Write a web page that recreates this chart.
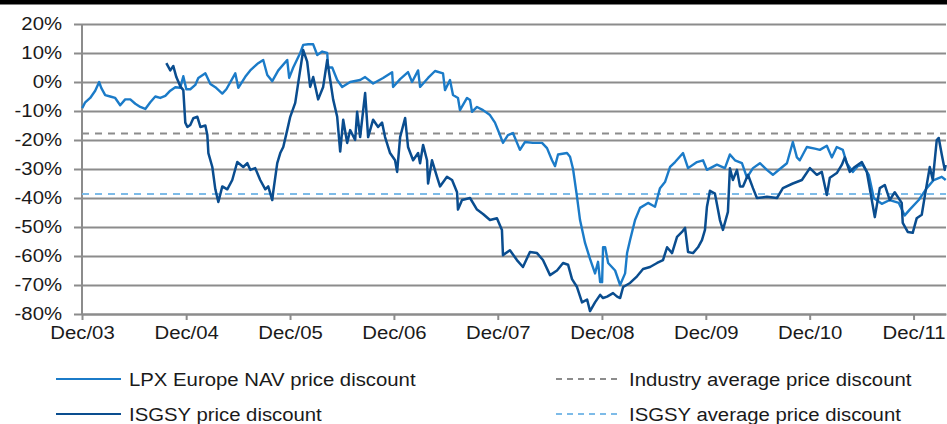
<!DOCTYPE html>
<html>
<head>
<meta charset="utf-8">
<script src="https://cdn.jsdelivr.net/npm/d3@7"></script>
<style>
  body { margin: 0; background: #fff; }
  svg text { font-family: "Liberation Sans", Arial, sans-serif; fill: #1a1a1a; }
</style>
</head>
<body>
<div id="chart"></div>
<script>
// values: [decimal year, discount %]
const yTicks = [20, 10, 0, -10, -20, -30, -40, -50, -60, -70, -80];
const xTickYears = [2003, 2004, 2005, 2006, 2007, 2008, 2009, 2010, 2011];

const lpxPoints = [
  [2003.917, -9], [2003.946, -7], [2003.994, -5.5], [2004.042, -3], [2004.080, 0],
  [2004.100, -2], [2004.138, -4.5], [2004.186, -5], [2004.234, -5.5], [2004.282, -8],
  [2004.330, -6], [2004.379, -6], [2004.427, -7.5], [2004.475, -8.6], [2004.523, -9.3],
  [2004.571, -7], [2004.619, -5], [2004.667, -5.5], [2004.715, -4.8], [2004.763, -3],
  [2004.811, -1.8], [2004.859, -2], [2004.888, 2], [2004.917, -2.5], [2004.955, -2.5],
  [2005.003, -1], [2005.032, 1.4], [2005.100, 3], [2005.148, -0.7], [2005.196, -1.8],
  [2005.263, -4], [2005.302, -2.5], [2005.388, 3], [2005.417, -2], [2005.484, 1.8],
  [2005.532, 4], [2005.609, 6.5], [2005.657, 7.6], [2005.696, 2.4], [2005.744, 0.3],
  [2005.802, 4], [2005.888, 7.6], [2005.907, 1.4], [2005.946, 5], [2006.013, 10],
  [2006.042, 12.8], [2006.090, 13], [2006.138, 13], [2006.177, 9.3], [2006.225, 10.5],
  [2006.273, 10], [2006.282, 5], [2006.321, 5], [2006.369, 0.7], [2006.417, -1.7],
  [2006.494, 0], [2006.590, 0.7], [2006.638, 1.7], [2006.715, -0.5], [2006.811, 1.4],
  [2006.898, 3.4], [2006.907, -1.7], [2006.975, 1], [2007.051, 3.4], [2007.090, 0],
  [2007.148, 4], [2007.167, -1.7], [2007.244, 1.4], [2007.311, 3.8], [2007.388, 3],
  [2007.407, -2.8], [2007.455, 0.7], [2007.484, -4.5], [2007.532, -5.5], [2007.551, -9.7],
  [2007.619, -5.5], [2007.648, -6.2], [2007.667, -10.3], [2007.715, -8.6], [2007.773, -9.7],
  [2007.840, -11.4], [2007.888, -14], [2007.936, -18.3], [2007.965, -21], [2008.013, -18.3],
  [2008.061, -17.6], [2008.128, -23.4], [2008.176, -20.7], [2008.253, -21], [2008.340, -21],
  [2008.388, -22.8], [2008.436, -27], [2008.465, -29], [2008.494, -25], [2008.580, -24.5],
  [2008.609, -25.8], [2008.638, -30], [2008.676, -39.6], [2008.705, -47.6], [2008.753, -55.5],
  [2008.801, -61], [2008.849, -66], [2008.878, -62], [2008.898, -69], [2008.917, -69],
  [2008.926, -57], [2008.946, -57], [2008.975, -62.4], [2009.042, -65], [2009.090, -70],
  [2009.138, -66], [2009.157, -59], [2009.186, -54.5], [2009.234, -47.6], [2009.282, -43.4],
  [2009.359, -41.7], [2009.426, -43], [2009.474, -36.6], [2009.522, -34.5], [2009.571, -29.3],
  [2009.619, -27.6], [2009.696, -24.5], [2009.744, -29.7], [2009.830, -27.6], [2009.888, -27],
  [2009.926, -30.3], [2010.022, -28.5], [2010.099, -29.7], [2010.147, -25], [2010.196, -27],
  [2010.263, -28], [2010.311, -33], [2010.369, -29.7], [2010.436, -28], [2010.503, -30.3],
  [2010.561, -32], [2010.628, -30], [2010.696, -28], [2010.753, -20.7], [2010.792, -26],
  [2010.820, -27], [2010.888, -22.4], [2010.965, -23], [2011.013, -23.4], [2011.080, -22],
  [2011.128, -26], [2011.176, -22.4], [2011.234, -23.4], [2011.272, -28], [2011.330, -31],
  [2011.378, -29], [2011.426, -28.6], [2011.484, -32], [2011.532, -40], [2011.609, -42],
  [2011.686, -40.7], [2011.773, -41.7], [2011.830, -46], [2011.878, -44], [2011.965, -40.7],
  [2012.042, -36.6], [2012.109, -33.8], [2012.186, -32.7], [2012.224, -33.8]
];

const isgsyPoints = [
  [2004.725, 6.5], [2004.763, 4], [2004.792, 5.5], [2004.821, 1.7], [2004.859, -1.5],
  [2004.888, -2.8], [2004.907, -14], [2004.927, -15.5], [2004.955, -14.8], [2004.984, -12.5],
  [2005.023, -12], [2005.052, -15.5], [2005.100, -15], [2005.119, -18.3], [2005.129, -24.5],
  [2005.167, -29.3], [2005.196, -37], [2005.225, -41.4], [2005.263, -36], [2005.311, -37],
  [2005.359, -33.8], [2005.407, -27.6], [2005.465, -29.3], [2005.504, -28], [2005.532, -30.3],
  [2005.580, -29.7], [2005.628, -33.8], [2005.677, -37], [2005.705, -36], [2005.744, -40.7],
  [2005.753, -38], [2005.792, -28], [2005.821, -24.5], [2005.850, -22.4], [2005.888, -16.6],
  [2005.917, -12], [2005.965, -7.2], [2005.994, -0.3], [2006.032, 8.6], [2006.042, 11],
  [2006.080, 7], [2006.109, -1.7], [2006.138, 1.7], [2006.186, -6], [2006.234, -1.7],
  [2006.273, 7.6], [2006.302, 0.7], [2006.330, -6], [2006.369, -12], [2006.398, -24],
  [2006.427, -13], [2006.465, -21], [2006.494, -16.6], [2006.542, -20], [2006.561, -10.3],
  [2006.590, -19], [2006.638, -3.8], [2006.667, -19], [2006.715, -13], [2006.763, -15.5],
  [2006.801, -14], [2006.830, -19], [2006.878, -24.5], [2006.926, -27], [2006.946, -31],
  [2006.975, -19], [2007.023, -12.4], [2007.051, -22.4], [2007.100, -27], [2007.148, -24.5],
  [2007.167, -28], [2007.196, -21.7], [2007.234, -27], [2007.244, -35], [2007.282, -27],
  [2007.330, -32.7], [2007.359, -36], [2007.426, -32.7], [2007.475, -33.8], [2007.523, -38],
  [2007.532, -44], [2007.571, -40.7], [2007.648, -40], [2007.715, -44], [2007.773, -45.5],
  [2007.840, -47.6], [2007.907, -47], [2007.955, -51], [2007.965, -59.7], [2008.032, -58],
  [2008.099, -61.4], [2008.157, -63.8], [2008.224, -58.6], [2008.292, -59], [2008.349, -61.4],
  [2008.417, -66.6], [2008.484, -65], [2008.542, -62.4], [2008.590, -63], [2008.628, -68],
  [2008.676, -70.7], [2008.724, -76], [2008.773, -75], [2008.801, -79], [2008.849, -76],
  [2008.898, -73.4], [2008.926, -74.5], [2008.965, -74], [2009.022, -72.8], [2009.061, -74],
  [2009.090, -74.5], [2009.119, -70.7], [2009.186, -69.3], [2009.253, -67], [2009.311, -64.5],
  [2009.378, -63.8], [2009.446, -62.4], [2009.503, -61.4], [2009.542, -57], [2009.590, -59],
  [2009.638, -53.4], [2009.686, -51.7], [2009.715, -50.3], [2009.744, -58.6], [2009.792, -59],
  [2009.840, -57], [2009.878, -54.5], [2009.907, -51], [2009.926, -43], [2009.955, -37.5],
  [2010.003, -38.5], [2010.032, -44], [2010.051, -47.6], [2010.080, -51], [2010.128, -44.8],
  [2010.147, -29.7], [2010.176, -33.8], [2010.215, -30.3], [2010.244, -36], [2010.273, -36],
  [2010.321, -32], [2010.369, -36.6], [2010.407, -40], [2010.503, -39.6], [2010.600, -40],
  [2010.657, -36.6], [2010.753, -35], [2010.840, -33.8], [2010.917, -29.7], [2010.984, -32],
  [2011.032, -31], [2011.080, -39], [2011.109, -33], [2011.176, -31.4], [2011.224, -28.6],
  [2011.253, -26], [2011.301, -31], [2011.349, -29.3], [2011.417, -27.6], [2011.465, -31],
  [2011.513, -40.7], [2011.542, -46.6], [2011.590, -36.6], [2011.638, -35.5], [2011.686, -40.7],
  [2011.734, -38], [2011.801, -41.7], [2011.811, -48.6], [2011.859, -51.7], [2011.907, -52],
  [2011.945, -47], [2011.994, -45.8], [2012.022, -39.6], [2012.071, -29.3], [2012.100, -33.8],
  [2012.138, -20], [2012.157, -19.3], [2012.186, -25], [2012.215, -30.3], [2012.224, -28.6]
];

const industryAverage = -17.8;
const isgsyAverage = -38.6;

const legendLabels = [
  "LPX Europe NAV price discount",
  "ISGSY price discount",
  "Industry average price discount",
  "ISGSY average price discount"
];

const width = 947;
const height = 424;
const plot = { left: 82, right: 946, top: 24, bottom: 314 };
const stretch = 1.13;

const lpxColor = "#1b7bc8";
const isgsyColor = "#0a4d8f";
const gridColor = "#8c8c8c";
const isgsyAvgColor = "#7dbbe8";

function yearToDate(y) {
  const year = Math.floor(y);
  const start = new Date(year, 0, 1);
  const end = new Date(year + 1, 0, 1);
  return new Date(+start + (y - year) * (end - start));
}

const svg = d3
  .select("#chart")
  .append("svg")
  .attr("width", width)
  .attr("height", height);

const xPositionScale = d3
  .scaleTime()
  .domain([new Date(2003, 11, 1), new Date(2012, 2, 24)])
  .range([plot.left, plot.right]);

const yPositionScale = d3
  .scaleLinear()
  .domain([-80, 20])
  .range([plot.bottom, plot.top]);

// black rule at the very top
svg.append("rect")
  .attr("x", 0)
  .attr("y", 0)
  .attr("width", width)
  .attr("height", 4.5)
  .attr("fill", "#000");

// gridlines + y labels
const axisLeft = d3
  .axisLeft(yPositionScale)
  .tickValues(yTicks)
  .tickSize(-(plot.right - 74))
  .tickPadding(10.6)
  .tickFormat((d) => d + "%");

const yAxis = svg
  .append("g")
  .attr("transform", "translate(74,0)")
  .call(axisLeft);

yAxis.select(".domain").remove();
yAxis.selectAll("line")
  .attr("stroke", gridColor)
  .attr("stroke-width", 2);
yAxis.selectAll("text")
  .attr("transform", `scale(${stretch},1)`)
  .style("font-size", "18px")
  .style("fill", "#1a1a1a");

svg.append("line")
  .attr("x1", plot.left)
  .attr("x2", plot.left)
  .attr("y1", plot.top)
  .attr("y2", plot.bottom)
  .attr("stroke", gridColor)
  .attr("stroke-width", 2);

// x axis
const axisBottom = d3
  .axisBottom(xPositionScale)
  .tickValues(xTickYears.map((y) => new Date(y, 11, 1)))
  .tickSizeInner(6)
  .tickSizeOuter(0)
  .tickPadding(6)
  .tickFormat(d3.timeFormat("%b/%y"));

const xAxis = svg
  .append("g")
  .attr("transform", `translate(0,${plot.bottom})`)
  .call(axisBottom);

xAxis.select(".domain")
  .attr("stroke", gridColor)
  .attr("stroke-width", 2);
xAxis.selectAll("line")
  .attr("stroke", gridColor)
  .attr("stroke-width", 2);
xAxis.selectAll("text")
  .attr("transform", `scale(${stretch},1)`)
  .style("font-size", "18px")
  .style("fill", "#1a1a1a");

// average lines
svg.append("line")
  .attr("x1", plot.left)
  .attr("x2", plot.right)
  .attr("y1", yPositionScale(industryAverage))
  .attr("y2", yPositionScale(industryAverage))
  .attr("stroke", gridColor)
  .attr("stroke-width", 2)
  .attr("stroke-dasharray", "7 6");

svg.append("line")
  .attr("x1", plot.left)
  .attr("x2", plot.right)
  .attr("y1", yPositionScale(isgsyAverage))
  .attr("y2", yPositionScale(isgsyAverage))
  .attr("stroke", isgsyAvgColor)
  .attr("stroke-width", 2)
  .attr("stroke-dasharray", "7 6");

// series
const line = d3
  .line()
  .x((d) => xPositionScale(yearToDate(d[0])))
  .y((d) => yPositionScale(d[1]));

svg.append("path")
  .datum(lpxPoints)
  .attr("d", line)
  .attr("fill", "none")
  .attr("stroke", lpxColor)
  .attr("stroke-width", 2.4)
  .attr("stroke-linejoin", "round");

svg.append("path")
  .datum(isgsyPoints)
  .attr("d", line)
  .attr("fill", "none")
  .attr("stroke", isgsyColor)
  .attr("stroke-width", 2.5)
  .attr("stroke-linejoin", "round");

// legend, two columns
const legendStyles = [
  { color: lpxColor, dash: null },
  { color: isgsyColor, dash: null },
  { color: gridColor, dash: "6 5" },
  { color: isgsyAvgColor, dash: "6 5" }
];

const legend = svg
  .selectAll(".legend")
  .data(legendLabels)
  .enter()
  .append("g")
  .attr("class", "legend")
  .attr("transform", (d, i) => {
    const col = Math.floor(i / 2);
    const row = i % 2;
    return `translate(${col ? 556 : 56},${row ? 414 : 379})`;
  });

legend.append("line")
  .attr("x1", 0)
  .attr("x2", (d, i) => (i < 2 ? 65 : 62))
  .attr("stroke", (d, i) => legendStyles[i].color)
  .attr("stroke-width", 2)
  .attr("stroke-dasharray", (d, i) => legendStyles[i].dash);

legend.append("text")
  .text((d) => d)
  .attr("transform", `translate(73,7) scale(${stretch},1)`)
  .style("font-size", "18px");
</script>
</body>
</html>
